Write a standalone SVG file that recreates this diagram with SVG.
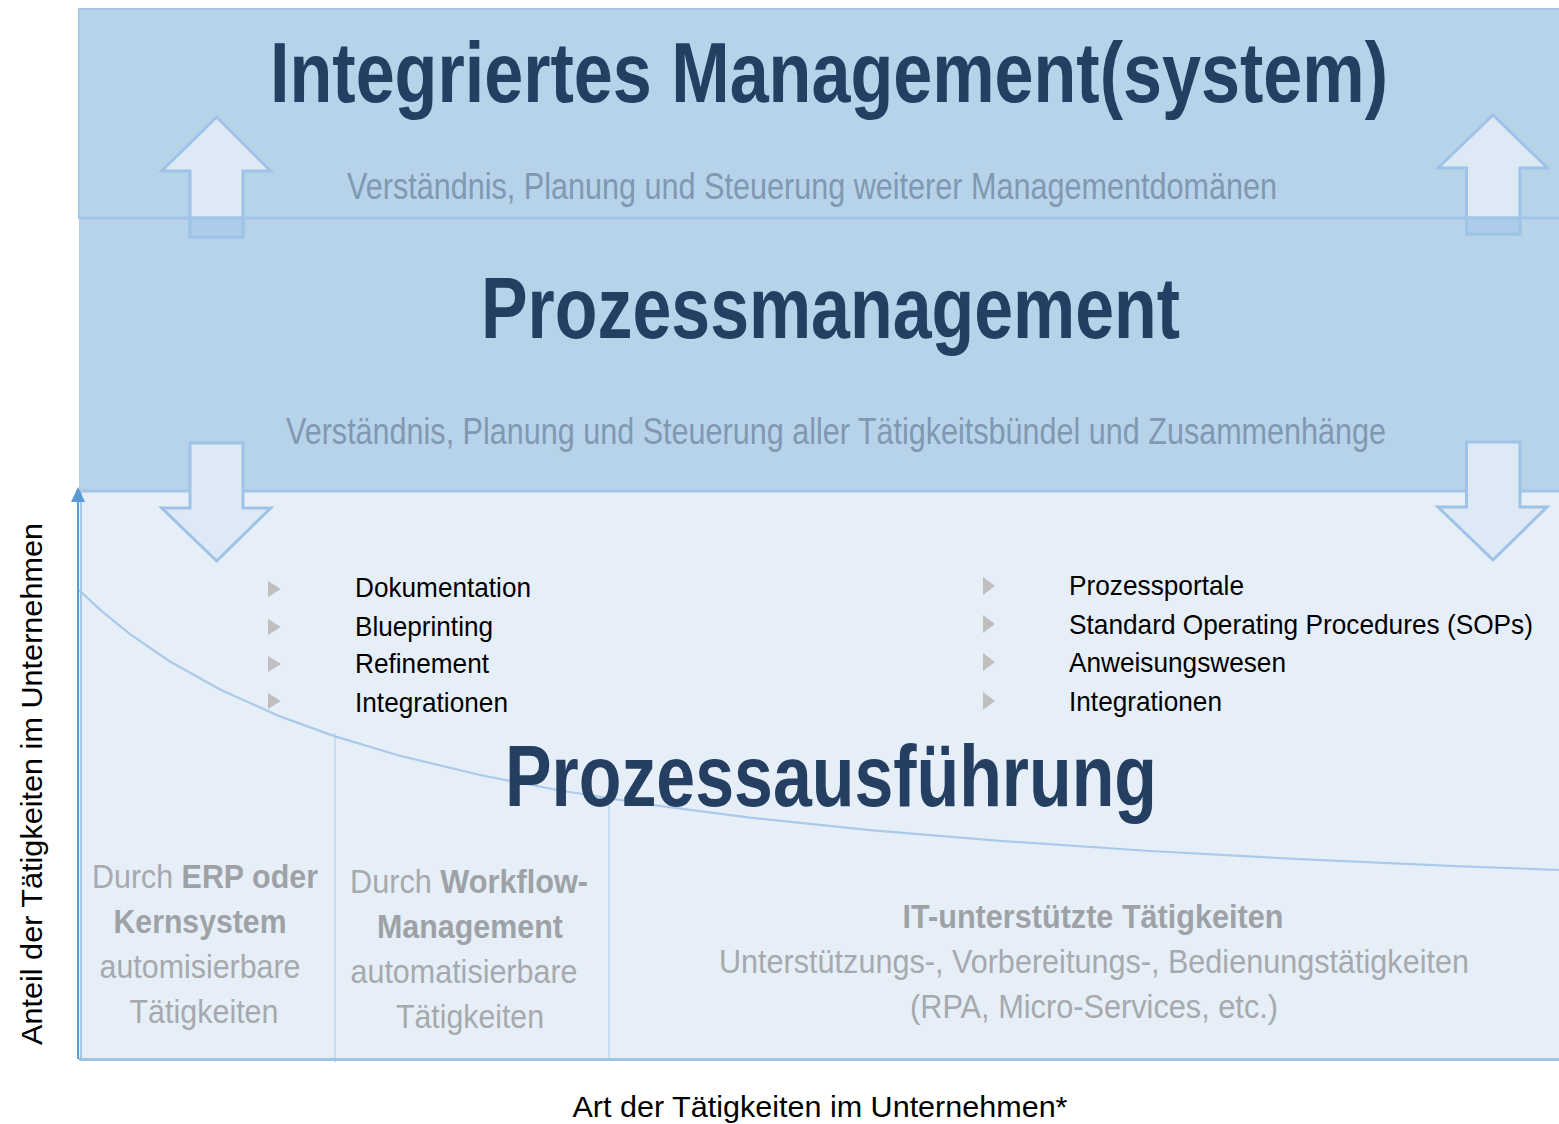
<svg xmlns="http://www.w3.org/2000/svg" width="1559" height="1124" viewBox="0 0 1559 1124">
<style>
.title{font-family:"Liberation Sans",Arial,sans-serif;font-weight:bold;fill:#243f61}
.sub{font-family:"Liberation Sans",Arial,sans-serif;fill:#8098b1;font-size:36px}
.item{font-family:"Liberation Sans",Arial,sans-serif;fill:#000;font-size:28px}
.gray{font-family:"Liberation Sans",Arial,sans-serif;fill:#a6a9ad;font-size:34px;text-anchor:middle}
.b{font-weight:bold;fill:#9ea2a7}
.axis{font-family:"Liberation Sans",Arial,sans-serif;fill:#000;font-size:30px;text-anchor:middle}
.arrow{fill:#dde9f5;stroke:#9fc3e6;stroke-width:3}
.tri{fill:#bfbfbf}
.sep{stroke:#bcd6ee;stroke-width:1.5;fill:none}
</style>
<defs>
<marker id="ah" markerWidth="8" markerHeight="8" refX="4" refY="0" orient="auto" markerUnits="userSpaceOnUse" viewBox="-8 -16 16 16">
</marker>
</defs>
<rect width="1559" height="1124" fill="#ffffff"/>
<g id="band-integriert">
<rect x="79" y="9" width="1482" height="209" fill="#b7d3ea" stroke="#a7c7e7" stroke-width="2"/>
</g>
<g id="band-prozessmanagement">
<rect x="79" y="218" width="1482" height="273" fill="#b7d3ea"/>
</g>
<g id="band-ausfuehrung">
<rect x="79" y="491" width="1482" height="568" fill="#e6eff8"/>
</g>
<g id="connectors">
<polygon class="arrow" points="216.7,117 270.7,171 243,171 243,237 190,237 190,171 161.7,171"/>
<rect x="190" y="218" width="53" height="19" fill="#adcbea" stroke="#9fc3e6" stroke-width="3"/>
<polygon class="arrow" points="1493,115 1547.5,168 1520,168 1520,234 1466.5,234 1466.5,168 1438,168"/>
<rect x="1466.5" y="218" width="53.5" height="16" fill="#adcbea" stroke="#9fc3e6" stroke-width="3"/>
<line x1="79" y1="218" x2="1559" y2="218" stroke="#a2c5e7" stroke-width="3"/>
<line x1="79" y1="491" x2="1559" y2="491" stroke="#a2c5e7" stroke-width="3"/>
<polygon class="arrow" points="190,443 243,443 243,508 270.7,508 216.7,561 161.7,508 190,508"/>
<polygon class="arrow" points="1466.5,442 1520,442 1520,507 1547,507 1493,560 1438,507 1466.5,507"/>
<path class="sep" d="M335,733 V1062 M609,797 V1059"/>
<path d="M79,590 L100,609.6 L130,634.1 L170,661.5 L220,689.5 L280,716.4 L335,736.4 L400,755.8 L480,775 L560,790.5 L650,804.7 L750,817.6 L870,830.1 L1000,840.9 L1150,851 L1300,859.1 L1450,865.8 L1559,870" fill="none" stroke="#acc9e8" stroke-width="2.2"/>
<line x1="81" y1="491" x2="81" y2="1059" stroke="#a7c7e7" stroke-width="2"/>
<line x1="79" y1="1059.5" x2="1559" y2="1059.5" stroke="#9dc3e6" stroke-width="3"/>
<line x1="78" y1="1059" x2="78" y2="500" stroke="#5b9bd5" stroke-width="2"/>
<polygon points="78,487 85,502 71,502" fill="#5b9bd5"/>
</g>
<g id="text-integriert">
<text class="title" x="270" y="102" font-size="86" textLength="1118" lengthAdjust="spacingAndGlyphs">Integriertes Management(system)</text>
<text class="sub" x="347" y="199" textLength="930" lengthAdjust="spacingAndGlyphs">Verständnis, Planung und Steuerung weiterer Managementdomänen</text>
</g>
<g id="text-prozessmanagement">
<text class="title" x="481" y="338" font-size="88" textLength="699" lengthAdjust="spacingAndGlyphs">Prozessmanagement</text>
<text class="sub" x="286" y="444" textLength="1100" lengthAdjust="spacingAndGlyphs">Verständnis, Planung und Steuerung aller Tätigkeitsbündel und Zusammenhänge</text>
</g>
<g id="bullets-left">
<polygon class="tri" points="268,581 281,589 268,597"/>
<polygon class="tri" points="268,619 281,627 268,635"/>
<polygon class="tri" points="268,656 281,664 268,672"/>
<polygon class="tri" points="268,693 281,701 268,709"/>
<text class="item" x="355" y="597" textLength="176" lengthAdjust="spacingAndGlyphs">Dokumentation</text>
<text class="item" x="355" y="636" textLength="138" lengthAdjust="spacingAndGlyphs">Blueprinting</text>
<text class="item" x="355" y="673" textLength="134" lengthAdjust="spacingAndGlyphs">Refinement</text>
<text class="item" x="355" y="712" textLength="153" lengthAdjust="spacingAndGlyphs">Integrationen</text>
</g>
<g id="bullets-right">
<polygon class="tri" points="983,577 995,586 983,595"/>
<polygon class="tri" points="983,615 995,624 983,633"/>
<polygon class="tri" points="983,653 995,662 983,671"/>
<polygon class="tri" points="983,692 995,701 983,710"/>
<text class="item" x="1069" y="595" textLength="175" lengthAdjust="spacingAndGlyphs">Prozessportale</text>
<text class="item" x="1069" y="634" textLength="464" lengthAdjust="spacingAndGlyphs">Standard Operating Procedures (SOPs)</text>
<text class="item" x="1069" y="672" textLength="217" lengthAdjust="spacingAndGlyphs">Anweisungswesen</text>
<text class="item" x="1069" y="711" textLength="153" lengthAdjust="spacingAndGlyphs">Integrationen</text>
</g>
<g id="text-ausfuehrung">
<text class="title" x="505" y="806" font-size="88" textLength="652" lengthAdjust="spacingAndGlyphs">Prozessausführung</text>
</g>
<g id="col-erp">
<text class="gray" x="205" y="888" textLength="226" lengthAdjust="spacingAndGlyphs">Durch <tspan class="b">ERP oder</tspan></text>
<text class="gray b" x="200" y="933" textLength="173" lengthAdjust="spacingAndGlyphs">Kernsystem</text>
<text class="gray" x="200" y="978" textLength="201" lengthAdjust="spacingAndGlyphs">automisierbare</text>
<text class="gray" x="204" y="1023" textLength="149" lengthAdjust="spacingAndGlyphs">Tätigkeiten</text>
</g>
<g id="col-workflow">
<text class="gray" x="469" y="893" textLength="238" lengthAdjust="spacingAndGlyphs">Durch <tspan class="b">Workflow-</tspan></text>
<text class="gray b" x="470" y="938" textLength="186" lengthAdjust="spacingAndGlyphs">Management</text>
<text class="gray" x="464" y="983" textLength="227" lengthAdjust="spacingAndGlyphs">automatisierbare</text>
<text class="gray" x="470" y="1028" textLength="148" lengthAdjust="spacingAndGlyphs">Tätigkeiten</text>
</g>
<g id="col-it">
<text class="gray b" x="1093" y="928" textLength="381" lengthAdjust="spacingAndGlyphs">IT-unterstützte Tätigkeiten</text>
<text class="gray" x="1094" y="973" textLength="750" lengthAdjust="spacingAndGlyphs">Unterstützungs-, Vorbereitungs-, Bedienungstätigkeiten</text>
<text class="gray" x="1094" y="1018" textLength="368" lengthAdjust="spacingAndGlyphs">(RPA, Micro-Services, etc.)</text>
</g>
<g id="axis-labels">
<text class="axis" transform="translate(42,784) rotate(-90)" textLength="522" lengthAdjust="spacingAndGlyphs">Anteil der Tätigkeiten im Unternehmen</text>
<text class="axis" x="820" y="1117" textLength="495" lengthAdjust="spacingAndGlyphs">Art der Tätigkeiten im Unternehmen*</text>
</g>
</svg>
